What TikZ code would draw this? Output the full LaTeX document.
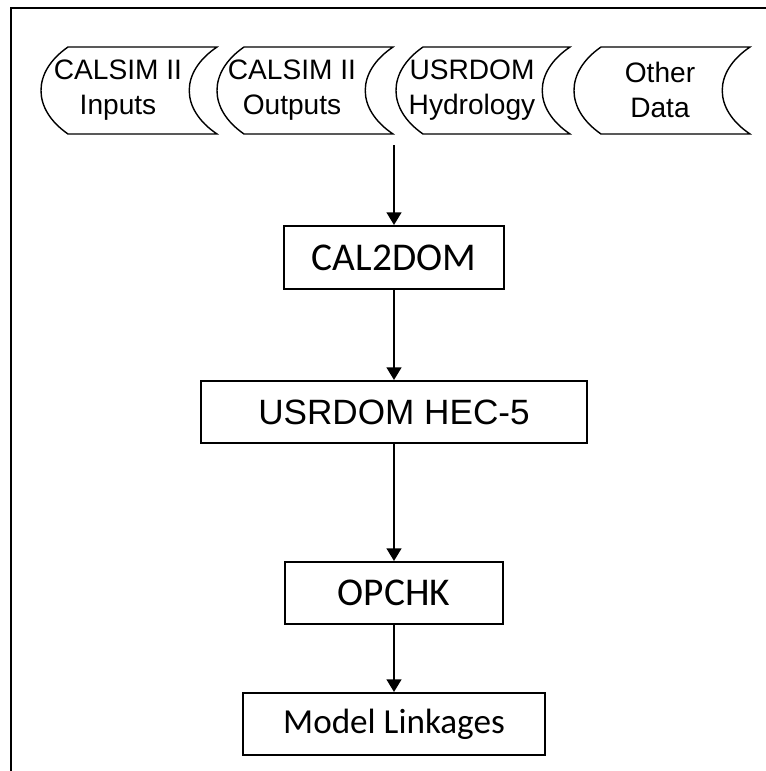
\documentclass[tikz,border=0pt]{standalone}
\usepackage{fontspec}
\setmainfont{Liberation Sans}
\newfontfamily\carlito{Carlito}
\usetikzlibrary{arrows.meta}

\begin{document}
\begin{tikzpicture}[
    x=0.025cm, y=-0.025cm,
    store/.style={line width=1pt},
    storetext/.style={align=center, inner sep=0pt,
                      font=\fontsize{20}{25}\selectfont},
    box/.style={draw, line width=1.4pt, inner sep=0pt, minimum height=1.55cm},
    flow/.style={-{Triangle[width=10.5pt,length=9pt]}, line width=1.4pt}
]
  \useasboundingbox (0,0) rectangle (766,771);

  % Outer frame
  \draw[line width=2.1pt] (11,771) -- (11,8) -- (766,8);

  % Data store 1
  \draw[store] (68,47) -- (217,47) .. controls (180,72) and (180,109) .. (217,134)
    -- (68,134) .. controls (32,109) and (32,72) .. cycle;
  \node[storetext] (inp) at (118,90) {CALSIM II\\Inputs};

  % Data store 2
  \draw[store] (244,47) -- (393,47) .. controls (356,72) and (356,109) .. (393,134)
    -- (244,134) .. controls (208,109) and (208,72) .. cycle;
  \node[storetext] (outp) at (292,90) {CALSIM II\\Outputs};

  % Data store 3
  \draw[store] (423,47) -- (570,47) .. controls (533,72) and (533,109) .. (570,134)
    -- (423,134) .. controls (387,109) and (387,72) .. cycle;
  \node[storetext] (hydro) at (472,90) {USRDOM\\Hydrology};

  % Data store 4
  \draw[store] (601,47) -- (750,47) .. controls (713,72) and (713,109) .. (750,134)
    -- (601,134) .. controls (565,109) and (565,72) .. cycle;
  \node[storetext] (other) at (660,90) {Other\\Data};

  % Programs
  \node[box, minimum width=5.475cm, minimum height=1.575cm,
        font=\carlito\fontsize{28}{30}\selectfont] (cal) at (394,257.5) {CAL2DOM};
  \node[box, minimum width=9.625cm,
        font=\fontsize{25}{28}\selectfont] (hec) at (394,412) {USRDOM HEC-5};
  \node[box, minimum width=5.45cm,
        font=\carlito\fontsize{28}{30}\selectfont] (opchk) at (394,593) {OPCHK};
  \node[box, minimum width=7.525cm,
        font=\carlito\fontsize{25}{28}\selectfont] (link) at (394,724) {Model Linkages};

  % Flow
  \coordinate (src) at (394,145);
  \draw[flow] (src) -- (cal);
  \draw[flow] (cal) -- (hec);
  \draw[flow] (hec) -- (opchk);
  \draw[flow] (opchk) -- (link);
\end{tikzpicture}
\end{document}
